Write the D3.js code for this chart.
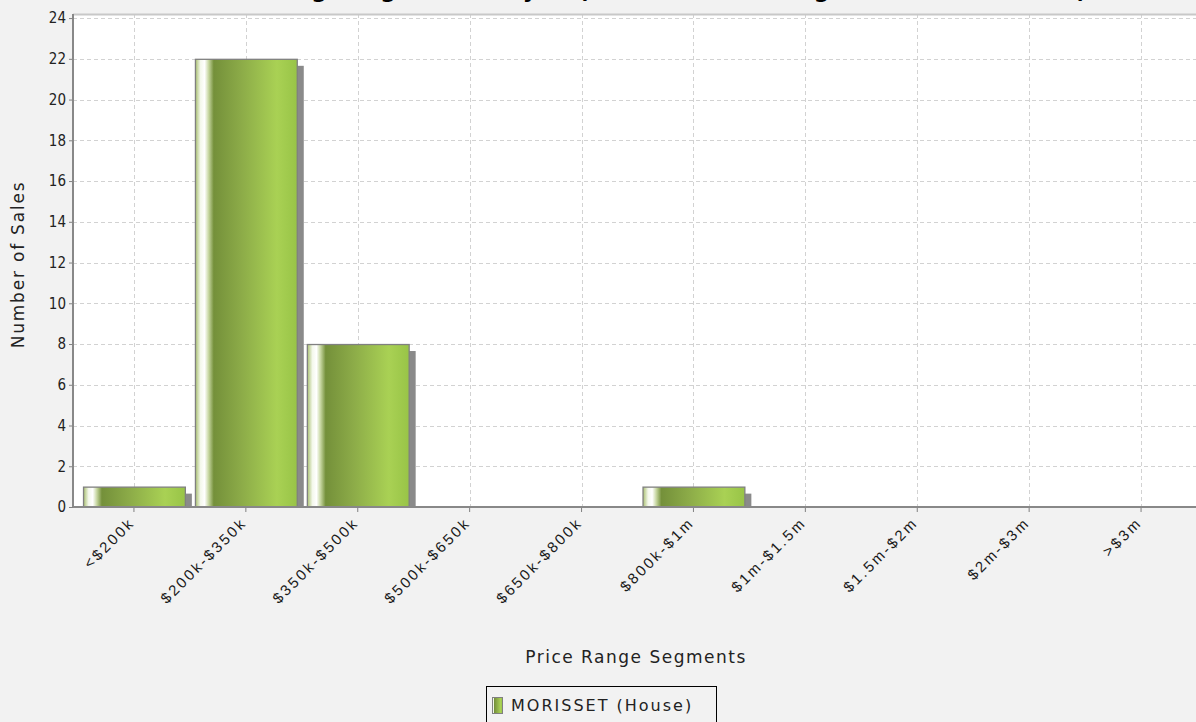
<!DOCTYPE html>
<html>
<head>
<meta charset="utf-8">
<script src="https://cdn.jsdelivr.net/npm/d3@7"></script>
<style>
  body { margin: 0; background: #f2f2f2; }
  svg { display: block; font-family: "DejaVu Sans", sans-serif; }
</style>
</head>
<body>
<div id="plot"></div>
<script>
// price segments and number of sales
var categories = ["<$200k", "$200k-$350k", "$350k-$500k", "$500k-$650k", "$650k-$800k",
                  "$800k-$1m", "$1m-$1.5m", "$1.5m-$2m", "$2m-$3m", ">$3m"];
var sales = [1, 22, 8, 0, 0, 1, 0, 0, 0, 0];
var yTicks = [0, 2, 4, 6, 8, 10, 12, 14, 16, 18, 20, 22, 24];
var seriesName = "MORISSET  (House)";
var chartTitle = "Price Range Segment Analysis (Houses Sold during the Last 12 Months)";

var W = 1196, H = 722;
var plotLeft = 73, plotTop = 14, plotBottom = 507, plotRight = 1210;

var svg = d3.select("#plot").append("svg")
    .attr("width", W)
    .attr("height", H);

svg.append("rect").attr("width", W).attr("height", H).attr("fill", "#f2f2f2");

// bar gradient (jfreechart style)
var defs = svg.append("defs");
var grad = defs.append("linearGradient").attr("id", "barGrad")
    .attr("x1", "0%").attr("x2", "100%").attr("y1", "0%").attr("y2", "0%");
[["0%", "#a9c070"], ["5%", "#f4f8ec"], ["9%", "#ffffff"], ["13%", "#c6d6a0"],
 ["18%", "#74903a"], ["45%", "#8cab48"], ["80%", "#a9d154"], ["100%", "#98c447"]]
  .forEach(function(s) { grad.append("stop").attr("offset", s[0]).attr("stop-color", s[1]); });

defs.append("clipPath").attr("id", "plotClip")
  .append("rect").attr("x", plotLeft).attr("y", plotTop)
    .attr("width", plotRight - plotLeft).attr("height", plotBottom - plotTop);

// title, mostly cut off by the top of the window
svg.append("text")
    .attr("x", 640).attr("y", -2.5)
    .attr("text-anchor", "middle")
    .style("font-size", "22px")
    .style("font-weight", "bold")
    .text(chartTitle);

var x = d3.scaleBand()
    .domain(categories)
    .range([78, 1197])
    .paddingInner(0.09)
    .paddingOuter(0.045);

var y = d3.scaleLinear()
    .domain([0, 24.2])
    .range([plotBottom, plotTop]);

// plot background
svg.append("rect")
    .attr("x", plotLeft).attr("y", plotTop)
    .attr("width", plotRight - plotLeft).attr("height", plotBottom - plotTop)
    .attr("fill", "#ffffff");

// grid
var grid = svg.append("g").attr("clip-path", "url(#plotClip)");
grid.selectAll(".hgrid")
  .data(yTicks.filter(d => d > 0))
  .join("line")
    .attr("x1", plotLeft).attr("x2", plotRight)
    .attr("y1", d => Math.round(y(d)) + 0.5).attr("y2", d => Math.round(y(d)) + 0.5)
    .attr("stroke", "#d2d2d2")
    .attr("stroke-dasharray", "4,3");
grid.selectAll(".vgrid")
  .data(categories)
  .join("line")
    .attr("x1", d => Math.round(x(d) + x.bandwidth() / 2) + 0.5)
    .attr("x2", d => Math.round(x(d) + x.bandwidth() / 2) + 0.5)
    .attr("y1", plotTop).attr("y2", plotBottom)
    .attr("stroke", "#d2d2d2")
    .attr("stroke-dasharray", "4,3");

// top border of plot
svg.append("line")
    .attr("x1", plotLeft).attr("x2", plotRight)
    .attr("y1", plotTop + 0.5).attr("y2", plotTop + 0.5)
    .attr("stroke", "#c8c8c8").attr("stroke-width", 2);

var data = categories.map(function(c, i) { return { cat: c, value: sales[i] }; })
    .filter(d => d.value > 0);

// shadows
var bars = svg.append("g").attr("clip-path", "url(#plotClip)");
bars.selectAll(".shadow")
  .data(data)
  .join("rect")
    .attr("x", d => x(d.cat) + 7)
    .attr("y", d => y(d.value) + 7)
    .attr("width", x.bandwidth())
    .attr("height", d => Math.max(0, plotBottom - y(d.value) - 7))
    .attr("fill", "#8a8a8a");

bars.selectAll(".bar")
  .data(data)
  .join("rect")
    .attr("x", d => x(d.cat) + 0.5)
    .attr("y", d => y(d.value) + 0.5)
    .attr("width", x.bandwidth())
    .attr("height", d => plotBottom - y(d.value))
    .attr("fill", "url(#barGrad)")
    .attr("stroke", "#808080")
    .attr("stroke-width", 1.3);

// y axis
var yAxis = svg.append("g")
    .attr("transform", `translate(${plotLeft},0)`)
    .call(d3.axisLeft(y).tickValues(yTicks).tickSize(4).tickPadding(3));
yAxis.select(".domain").remove();
yAxis.selectAll("line").attr("stroke", "#808080");
yAxis.selectAll("text")
    .style("font-size", "15px")
    .style("font-family", "'DejaVu Sans Condensed', 'DejaVu Sans', sans-serif")
    .attr("fill", "#222");
svg.append("line")
    .attr("x1", plotLeft).attr("x2", plotLeft)
    .attr("y1", plotTop).attr("y2", plotBottom)
    .attr("stroke", "#888").attr("stroke-width", 2);

// x axis
var xAxis = svg.append("g")
    .attr("transform", `translate(0,${plotBottom})`)
    .call(d3.axisBottom(x).tickSize(5));
xAxis.select(".domain").remove();
xAxis.selectAll("line").attr("stroke", "#808080");
xAxis.selectAll("text")
    .attr("x", 0).attr("y", 0).attr("dy", "0.35em")
    .attr("transform", "translate(-2,13) rotate(-45)")
    .style("text-anchor", "end")
    .style("font-size", "15px")
    .style("letter-spacing", "2.5px")
    .attr("fill", "#1a1a1a");
svg.append("line")
    .attr("x1", plotLeft).attr("x2", plotRight)
    .attr("y1", plotBottom).attr("y2", plotBottom)
    .attr("stroke", "#888").attr("stroke-width", 2);

// axis titles
svg.append("text")
    .attr("transform", `translate(24,${(plotTop + plotBottom) / 2 + 4}) rotate(-90)`)
    .attr("text-anchor", "middle")
    .style("font-size", "17px")
    .style("letter-spacing", "1.8px")
    .attr("fill", "#222")
    .text("Number of Sales");

svg.append("text")
    .attr("x", 636).attr("y", 663)
    .attr("text-anchor", "middle")
    .style("font-size", "17px")
    .style("letter-spacing", "1.5px")
    .attr("fill", "#222")
    .text("Price Range Segments");

// legend
var legend = svg.append("g");
legend.append("rect")
    .attr("x", 486.5).attr("y", 686.5)
    .attr("width", 230).attr("height", 45)
    .attr("fill", "none").attr("stroke", "#000");
legend.append("rect")
    .attr("x", 492.5).attr("y", 697.5)
    .attr("width", 10).attr("height", 16)
    .attr("fill", "url(#barGrad)").attr("stroke", "#808080");
legend.append("text")
    .attr("x", 511).attr("y", 711)
    .style("font-size", "16px")
    .style("letter-spacing", "2px")
    .attr("fill", "#222")
    .text(seriesName);
</script>
</body>
</html>
